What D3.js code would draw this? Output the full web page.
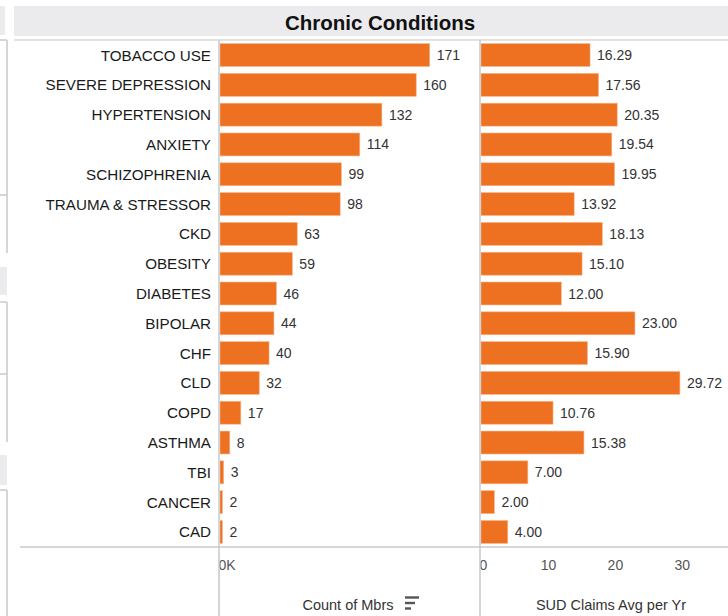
<!DOCTYPE html>
<html>
<head>
<meta charset="utf-8">
<script src="https://cdn.jsdelivr.net/npm/d3@7"></script>
<style>
  body { margin: 0; background: #fff; }
  text { font-family: "Liberation Sans", Arial, sans-serif; }
</style>
</head>
<body>
<script>
// data
const conditions = ['TOBACCO USE', 'SEVERE DEPRESSION', 'HYPERTENSION', 'ANXIETY',
  'SCHIZOPHRENIA', 'TRAUMA & STRESSOR', 'CKD', 'OBESITY', 'DIABETES', 'BIPOLAR',
  'CHF', 'CLD', 'COPD', 'ASTHMA', 'TBI', 'CANCER', 'CAD'];
const countMbrs = [171, 160, 132, 114, 99, 98, 63, 59, 46, 44, 40, 32, 17, 8, 3, 2, 2];
const sudClaims = [16.29, 17.56, 20.35, 19.54, 19.95, 13.92, 18.13, 15.10, 12.00, 23.00,
  15.90, 29.72, 10.76, 15.38, 7.00, 2.00, 4.00];
const countTicks = [0];
const sudTicks = [0, 10, 20, 30];

const size = {width: 728, height: 616};
const orange = '#ee7122';
const border = '#c9c9c9';

const svg = d3.select('body').append('svg')
  .attr('width', size.width)
  .attr('height', size.height);

// left neighbour panel sliver (part of the dashboard)
const side = svg.append('g').attr('id', 'side');
side.append('rect').attr('x', 0).attr('y', 6).attr('width', 5).attr('height', 29).attr('fill', '#ebebee');
side.append('rect').attr('x', 0).attr('y', 267).attr('width', 7).attr('height', 28).attr('fill', '#ebebee');
side.append('rect').attr('x', 0).attr('y', 455).attr('width', 7).attr('height', 30).attr('fill', '#ebebee');
[[0, 40, 7, 40], [7, 40, 7, 253], [0, 195, 7, 195],
 [0, 302, 7, 302], [7, 302, 7, 442], [0, 374, 7, 374],
 [0, 490, 7, 490], [7, 490, 7, 616]].forEach(l => {
  side.append('line')
    .attr('x1', l[0]).attr('y1', l[1]).attr('x2', l[2]).attr('y2', l[3])
    .attr('stroke', border).attr('stroke-width', 1.5);
});

// title bar
svg.append('rect')
  .attr('x', 14).attr('y', 6)
  .attr('width', size.width - 14).attr('height', 30)
  .attr('fill', '#ebebee');
svg.append('text')
  .attr('x', 380).attr('y', 22)
  .attr('text-anchor', 'middle')
  .attr('dominant-baseline', 'central')
  .style('font-size', '20.5px')
  .style('font-weight', 'bold')
  .style('fill', '#111')
  .text('Chronic Conditions');

// pane geometry
const pane = {top: 40, bottom: 547, left1: 220, right1: 480, left2: 481, label: 211};

const y = d3.scaleBand()
  .domain(conditions)
  .range([pane.top, pane.bottom])
  .paddingInner(0.23)
  .paddingOuter(0.12);

const xCount = d3.scaleLinear()
  .domain([0, 212])
  .range([pane.left1, pane.right1]);

const xSud = d3.scaleLinear()
  .domain([0, 36.9])
  .range([pane.left2, size.width]);

// clip for tick labels at pane edges
const defs = svg.append('defs');
defs.append('clipPath').attr('id', 'clip1')
  .append('rect').attr('x', pane.left1 - 1).attr('y', 0)
  .attr('width', pane.right1 - pane.left1).attr('height', size.height);
defs.append('clipPath').attr('id', 'clip2')
  .append('rect').attr('x', pane.left2 - 1).attr('y', 0)
  .attr('width', size.width - pane.left2 + 1).attr('height', size.height);

// row labels
svg.append('g').selectAll('text')
  .data(conditions)
  .join('text')
    .attr('x', pane.label)
    .attr('y', d => y(d) + y.bandwidth() / 2)
    .attr('text-anchor', 'end')
    .attr('dominant-baseline', 'central')
    .style('font-size', '15.2px')
    .style('fill', '#1a1a1a')
    .text(d => d);

// count bars
const rows = conditions.map((c, i) => ({name: c, count: countMbrs[i], sud: sudClaims[i]}));

svg.append('g').selectAll('rect')
  .data(rows)
  .join('rect')
    .attr('x', xCount(0))
    .attr('y', d => y(d.name))
    .attr('width', d => xCount(d.count) - xCount(0))
    .attr('height', y.bandwidth())
    .attr('fill', orange)
    .attr('stroke', '#f6b88e')
    .attr('stroke-width', 0.6);

svg.append('g').selectAll('text')
  .data(rows)
  .join('text')
    .attr('x', d => xCount(d.count) + 7)
    .attr('y', d => y(d.name) + y.bandwidth() / 2)
    .attr('dominant-baseline', 'central')
    .style('font-size', '14px')
    .style('fill', '#333')
    .text(d => d.count);

// sud bars
svg.append('g').selectAll('rect')
  .data(rows)
  .join('rect')
    .attr('x', xSud(0))
    .attr('y', d => y(d.name))
    .attr('width', d => xSud(d.sud) - xSud(0))
    .attr('height', y.bandwidth())
    .attr('fill', orange)
    .attr('stroke', '#f6b88e')
    .attr('stroke-width', 0.6);

svg.append('g').selectAll('text')
  .data(rows)
  .join('text')
    .attr('x', d => xSud(d.sud) + 7)
    .attr('y', d => y(d.name) + y.bandwidth() / 2)
    .attr('dominant-baseline', 'central')
    .style('font-size', '14px')
    .style('fill', '#333')
    .text(d => d3.format('.2f')(d.sud));

// bottom axes (tick labels only)
const axis1 = svg.append('g')
  .attr('clip-path', 'url(#clip1)')
  .attr('transform', `translate(0, ${pane.bottom + 10})`)
  .call(d3.axisBottom(xCount).tickValues(countTicks).tickSize(0)
    .tickFormat(d => d / 1000 + 'K'));
const axis2 = svg.append('g')
  .attr('clip-path', 'url(#clip2)')
  .attr('transform', `translate(0, ${pane.bottom + 10})`)
  .call(d3.axisBottom(xSud).tickValues(sudTicks).tickSize(0));
[axis1, axis2].forEach(a => {
  a.select('.domain').remove();
  a.selectAll('text')
    .style('font-family', '"Liberation Sans", Arial, sans-serif')
    .style('font-size', '14px')
    .style('fill', '#555');
});
// tableau puts the zero label just right of the pane edge
axis1.selectAll('text').attr('text-anchor', 'start').attr('x', -2);
axis2.selectAll('text').filter(d => d === 0).attr('text-anchor', 'start').attr('x', -2);

// pane borders
const lines = svg.append('g').attr('stroke', border).attr('stroke-width', 1.5);
lines.append('line').attr('x1', 14).attr('x2', size.width).attr('y1', pane.top).attr('y2', pane.top)
  .attr('stroke', '#d8d8d8');
lines.append('line').attr('x1', 20).attr('x2', size.width).attr('y1', pane.bottom).attr('y2', pane.bottom);
lines.append('line').attr('x1', pane.left1 - 1).attr('x2', pane.left1 - 1).attr('y1', pane.top).attr('y2', size.height);
lines.append('line').attr('x1', pane.right1).attr('x2', pane.right1).attr('y1', pane.top).attr('y2', size.height);

// axis titles
svg.append('text')
  .attr('x', 348).attr('y', 605)
  .attr('text-anchor', 'middle')
  .attr('dominant-baseline', 'central')
  .style('font-size', '14.5px')
  .style('fill', '#333')
  .text('Count of Mbrs');
// sort icon
[[14, 597.5], [10, 603], [6, 608.5]].forEach(s => {
  svg.append('rect')
    .attr('x', 405).attr('y', s[1] - 1.2)
    .attr('width', s[0]).attr('height', 2.4)
    .attr('fill', '#555');
});
svg.append('text')
  .attr('x', 611).attr('y', 605)
  .attr('text-anchor', 'middle')
  .attr('dominant-baseline', 'central')
  .style('font-size', '14.5px')
  .style('fill', '#333')
  .text('SUD Claims Avg per Yr');
</script>
</body>
</html>
